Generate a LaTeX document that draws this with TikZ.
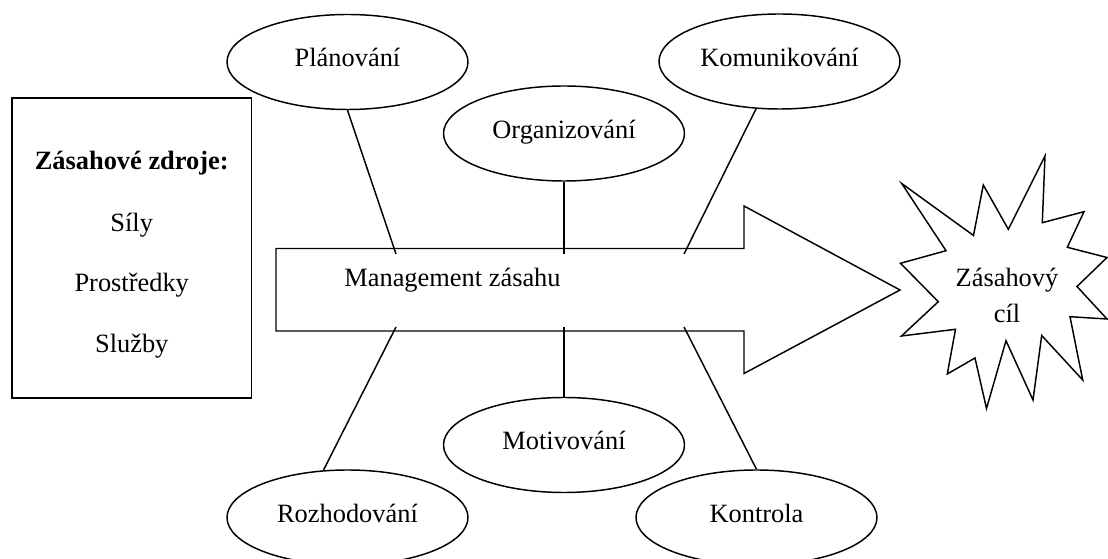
\documentclass[tikz,border=0pt]{standalone}
\usepackage{fontspec}
\setmainfont{Liberation Serif}
\usetikzlibrary{shapes.geometric}
\begin{document}
\begin{tikzpicture}[x=0.75pt,y=-0.75pt,
  every node/.style={font=\fontsize{19.8}{27.4}\selectfont, inner sep=0pt},
  outline/.style={draw=black, line width=1.1pt},
  oval/.style={outline, ellipse, minimum width=180.75pt, minimum height=71.25pt,
               text height=0.7em, text depth=0pt},
  link/.style={draw=black, line width=1.1pt},
  label/.style={anchor=base}
]
\useasboundingbox (0,0) rectangle (1108,559);

% resources box
\node[draw=black, line width=1.4pt, minimum width=179.6pt, minimum height=225pt] (res) at (131.75,248) {};
\node[label, font=\fontsize{19.8}{27.4}\selectfont\bfseries] (restitle) at (131.75,170) {Zásahové zdroje:};
\node[label] (res1) at (131.75,232) {Síly};
\node[label] (res2) at (131.75,292) {Prostředky};
\node[label] (res3) at (131.75,353) {Služby};

% main arrow
\draw[outline, fill=white] (276,248.5) -- (744,248.5) -- (744,206) -- (900,290)
  -- (744,373.5) -- (744,331) -- (276,331) -- cycle;
\node[label] (mgmt) at (452.5,287) {Management zásahu};

% attachment points on the arrow
\coordinate (a1) at (396,254);
\coordinate (a2) at (564,254);
\coordinate (a3) at (684,254);
\coordinate (b1) at (396,327);
\coordinate (b2) at (564,327);
\coordinate (b3) at (684,327);

% management functions
\node[oval] (pla) at (347.5,62) {Plánování};
\node[oval] (org) at (564,133.5) {Organizování};
\node[oval] (kom) at (779.5,61.5) {Komunikování};
\node[oval] (mot) at (564,445) {Motivování};
\node[oval] (roz) at (347.5,517.5) {Rozhodování};
\node[oval] (kon) at (756.5,517.5) {Kontrola};

\draw[link] (pla.south) -- (a1);
\draw[link] (org.south) -- (a2);
\draw[link] (kom) -- (a3);
\draw[link] (roz.117) -- (b1);
\draw[link] (mot.north) -- (b2);
\draw[link] (kon.north) -- (b3);

% goal burst
\draw[outline, fill=white, line join=miter]
  (901.7,183.5) -- (973.5,235.5) -- (983.3,185) -- (1008.3,229.3)
  -- (1045,156) -- (1042.3,222.7) -- (1084,211.7) -- (1067.3,247.3)
  -- (1107,257.5) -- (1077,286.5) -- (1107,319) -- (1070,316.7)
  -- (1082.7,380) -- (1041.7,335.5) -- (1033,400) -- (1006,340.7)
  -- (986.5,408.5) -- (975,358) -- (947.3,374) -- (955.5,329.3)
  -- (901.5,336) -- (938.3,301.7) -- (900.5,263.3) -- (946,250.7) -- cycle;
\node[label] (goal) at (1007,286.7) {Zásahový};
\node[label] (goalb) at (1007,323) {cíl};

\end{tikzpicture}
\end{document}
